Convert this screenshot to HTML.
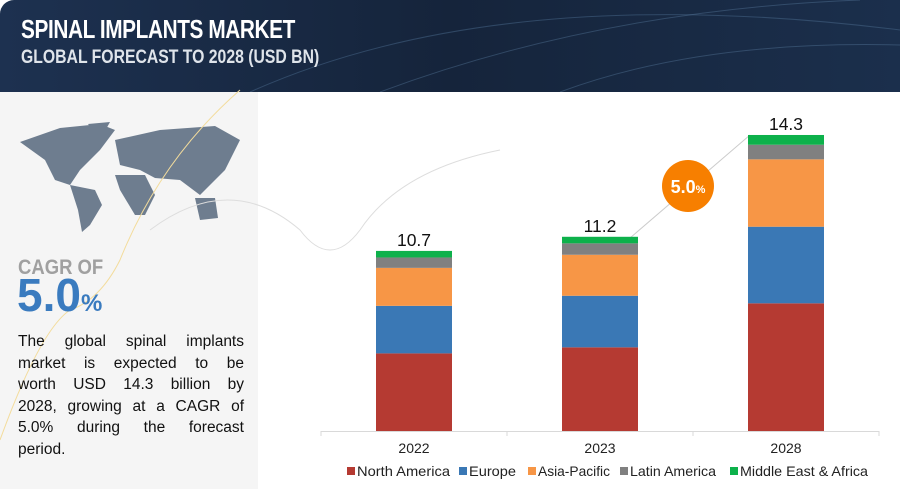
<!DOCTYPE html>
<html><head><meta charset="utf-8"><style>
body{margin:0;width:900px;height:489px;overflow:hidden;background:#fff;font-family:"Liberation Sans",sans-serif;position:relative}
#hdr{position:absolute;left:0;top:0;width:900px;height:92px;background:linear-gradient(90deg,#1d3150,#15243b 50%,#1b2f4c);border-top-left-radius:14px}
#t1{position:absolute;left:21px;top:14px;color:#fff;font-weight:bold;font-size:26px;letter-spacing:-0.5px;transform:scaleX(0.8);transform-origin:left}
#t2{position:absolute;left:21px;top:47px;color:#dfe4ea;font-weight:bold;font-size:19px;transform:scaleX(0.83);transform-origin:left}
#left{position:absolute;left:0;top:92px;width:258px;height:397px;background:#f5f5f5}
#cagr1{position:absolute;left:18px;top:256px;color:#a0a0a0;font-weight:bold;font-size:21px;transform:scaleX(0.88);transform-origin:left}
#cagr2{position:absolute;left:17px;top:272px;color:#3a7bbf;font-weight:bold;font-size:46px;line-height:46px}
#cagr2 span{font-size:24px}
#desc{position:absolute;left:18px;top:331px;width:226px;font-size:15.5px;line-height:21.6px;color:#111}
#desc div{text-align:justify;text-align-last:justify;white-space:nowrap}
#desc div.last{text-align-last:left}
</style></head><body>
<div id="hdr">
<svg width="900" height="92" style="position:absolute;left:0;top:0"><path d="M250 92 Q500 -20 900 30" stroke="#4a6a8c" fill="none" opacity=".5"/><path d="M380 92 Q600 10 860 0" stroke="#5b7ea0" fill="none" opacity=".4"/><path d="M560 92 Q700 40 900 45" stroke="#5b7ea0" fill="none" opacity=".4"/></svg>
<div id="t1">SPINAL IMPLANTS MARKET</div>
<div id="t2">GLOBAL FORECAST TO 2028 (USD BN)</div>
</div>
<div id="left"></div>
<svg width="900" height="489" style="position:absolute;left:0;top:0">
<g fill="#6e7d8f">
<path d="M20 142 L60 128 L100 124 L115 130 L100 150 L80 170 L70 185 L55 180 L45 160 Z"/>
<path d="M88 124 L110 122 L100 140 Z"/>
<path d="M70 185 L95 190 L102 205 L90 225 L82 232 L78 210 Z"/>
<path d="M115 140 L160 130 L215 126 L240 140 L225 170 L200 195 L180 180 L155 178 L140 170 L120 165 Z"/>
<path d="M115 175 L145 175 L155 195 L145 215 L135 215 L120 190 Z"/>
<path d="M195 198 L215 198 L218 218 L200 220 Z"/>
</g>
<path d="M0 440 Q40 330 70 310 Q100 300 120 260 Q160 160 240 90" stroke="#f3dc9c" fill="none"/>
<path d="M150 230 Q230 170 300 230 Q330 270 360 230 Q400 170 500 150" stroke="#ddd" fill="none"/>
<line x1="630" y1="238" x2="750" y2="135" stroke="#ccc"/>
</svg>
<div id="cagr1">CAGR OF</div>
<div id="cagr2">5.0<span>%</span></div>
<div id="desc"><div>The global spinal implants</div><div>market is expected to be</div><div>worth USD 14.3 billion by</div><div>2028, growing at a CAGR of</div><div>5.0% during the forecast</div><div class="last">period.</div></div>
<svg id="chart" width="900" height="489" style="position:absolute;left:0;top:0"></svg>
<script>
const years=["2022","2023","2028"];
const totals=["10.7","11.2","14.3"];
const series=["North America","Europe","Asia-Pacific","Latin America","Middle East & Africa"];
const northAmerica=[4.62,4.98,7.6];
const europe=[2.83,3.07,4.56];
const asiaPacific=[2.26,2.44,4.01];
const latinAmerica=[0.62,0.68,0.87];
const mea=[0.39,0.39,0.58];
const colors=["#b53a32","#3a78b5","#f79646","#808080","#0db14b"];
const vals=[northAmerica,europe,asiaPacific,latinAmerica,mea];
const NS="http://www.w3.org/2000/svg";
const svg=document.getElementById('chart');
const baseY=431,pxPer=16.8,x0=321,catW=186,barW=76;
const y=v=>baseY-v*pxPer;
const xc=i=>x0+catW*(i+0.5);
function mk(t,a){const e=document.createElementNS(NS,t);for(const k in a)e.setAttribute(k,a[k]);svg.appendChild(e);return e;}
let ax=mk('line',{x1:x0,y1:baseY+0.5,x2:x0+catW*3,y2:baseY+0.5,stroke:'#d9d9d9'});


for(let i=0;i<=3;i++){let t=mk('line',{x1:x0+catW*i,y1:baseY,x2:x0+catW*i,y2:baseY+5,stroke:'#d9d9d9'});

}
years.forEach((yr,i)=>{
 let cum=0;
 vals.forEach((s,j)=>{
  const r=mk('rect',{x:xc(i)-barW/2,y:y(cum+s[i]),width:barW,height:s[i]*pxPer,fill:colors[j]});
  
  
  cum+=s[i];
 });
 const tl=mk('text',{x:xc(i),y:y(cum)-5,'text-anchor':'middle','font-size':'17.5','fill':'#111'});
 tl.textContent=totals[i];
 
 
 const xl=mk('text',{x:xc(i),y:baseY+22,'text-anchor':'middle','font-size':'14','fill':'#222'});
 xl.textContent=yr;
 
 
});
const c=mk('circle',{cx:688,cy:186,r:26,fill:'#f77f00'});


const ct=mk('text',{x:688,y:193,'text-anchor':'middle','font-size':'18','font-weight':'bold',fill:'#fff'});
ct.innerHTML='5.0<tspan font-size="11">%</tspan>';


const lx=[347,459,528,620,730];
const lw=[93,47,72,86,128];
series.forEach((s,j)=>{
 const r=mk('rect',{x:lx[j],y:467,width:8,height:8,fill:colors[j]});
 
 
 const t=mk('text',{x:lx[j]+10,y:476,'font-size':'14','fill':'#222','textLength':lw[j],'lengthAdjust':'spacingAndGlyphs'});
 t.textContent=s;
 
 
});
</script>
</body></html>
